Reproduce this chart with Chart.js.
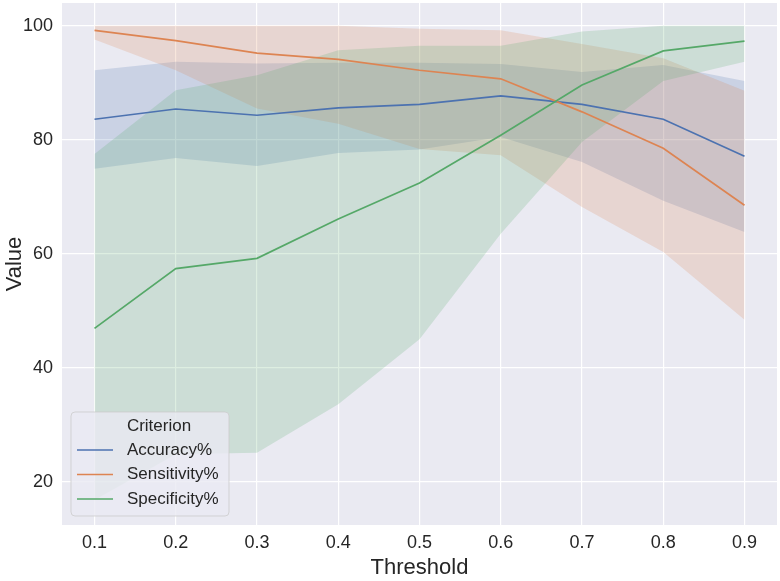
<!DOCTYPE html>
<html lang="en">
<head>
    <meta charset="UTF-8">
    <title>Threshold vs Value</title>
    <script src="https://cdn.jsdelivr.net/npm/chart.js@4.4.0/dist/chart.umd.min.js"></script>
    <style>
        body {
            margin: 0;
            background: #ffffff;
        }

        .chart-container {
            width: 780px;
            height: 581px;
        }
    </style>
</head>
<body>
    <div class="chart-container">
        <canvas id="criterionChart"></canvas>
    </div>

    <script>
        const thresholds = [0.1, 0.2, 0.3, 0.4, 0.5, 0.6, 0.7, 0.8, 0.9];
        const xTicks = [0.1, 0.2, 0.3, 0.4, 0.5, 0.6, 0.7, 0.8, 0.9];
        const yTicks = [20, 40, 60, 80, 100];

        const accuracy     = [83.6, 85.4, 84.3, 85.6, 86.2, 87.7, 86.2, 83.6, 77.1];
        const accuracyLow  = [74.9, 76.8, 75.4, 77.7, 78.3, 80.5, 76.1, 69.3, 63.8];
        const accuracyHigh = [92.2, 93.7, 93.4, 93.5, 93.5, 93.3, 91.9, 93.1, 90.3];

        const sensitivity     = [99.2, 97.4, 95.2, 94.1, 92.2, 90.7, 84.9, 78.5, 68.5];
        const sensitivityLow  = [97.6, 92.2, 85.5, 82.8, 78.4, 77.3, 68.2, 60.3, 48.4];
        const sensitivityHigh = [100, 100, 100, 100, 99.5, 99.2, 96.8, 94.3, 88.6];

        const specificity     = [46.9, 57.4, 59.2, 66.1, 72.4, 80.8, 89.6, 95.6, 97.3];
        const specificityLow  = [16.8, 24.8, 25.1, 33.6, 45.0, 63.5, 79.6, 90.3, 93.7];
        const specificityHigh = [77.5, 88.7, 91.3, 95.7, 96.5, 96.5, 99.0, 100, 100];

        const criteria = [
            { label: 'Accuracy%', color: '#4c72b0', band: 'rgba(76,114,176,0.2)', mean: accuracy, low: accuracyLow, high: accuracyHigh },
            { label: 'Sensitivity%', color: '#dd8452', band: 'rgba(221,132,82,0.2)', mean: sensitivity, low: sensitivityLow, high: sensitivityHigh },
            { label: 'Specificity%', color: '#55a868', band: 'rgba(85,168,104,0.2)', mean: specificity, low: specificityLow, high: specificityHigh }
        ];

        const FONT = "'Liberation Sans', Arial, sans-serif";
        const TEXT = '#262626';

        function points(values) {
            return thresholds.map((t, i) => ({ x: t, y: values[i] }));
        }

        // bands go under every line, like matplotlib's zorder
        const datasets = [];
        criteria.forEach((c, k) => {
            datasets.push({
                label: c.label + ' upper',
                data: points(c.high),
                borderWidth: 0,
                pointRadius: 0,
                backgroundColor: c.band,
                fill: '+1',
                order: 10 - k
            });
            datasets.push({
                label: c.label + ' lower',
                data: points(c.low),
                borderWidth: 0,
                pointRadius: 0,
                fill: false,
                order: 10 - k
            });
        });
        criteria.forEach((c, k) => {
            datasets.push({
                label: c.label,
                data: points(c.mean),
                borderColor: c.color,
                borderWidth: 1.7,
                pointRadius: 0,
                fill: false,
                order: 3 - k
            });
        });

        const plotBackground = {
            id: 'plotBackground',
            beforeDraw(chart) {
                const { ctx, chartArea: a } = chart;
                ctx.save();
                ctx.fillStyle = '#eaeaf2';
                ctx.fillRect(a.left, a.top, a.right - a.left, a.bottom - a.top);
                ctx.restore();
            }
        };

        const criterionLegend = {
            id: 'criterionLegend',
            afterDraw(chart) {
                const { ctx, chartArea: a } = chart;
                const w = 158, h = 104;
                const x = a.left + 9, y = a.bottom - 9 - h;
                ctx.save();
                ctx.beginPath();
                ctx.roundRect(x, y, w, h, 4);
                ctx.fillStyle = 'rgba(234,234,242,0.8)';
                ctx.fill();
                ctx.strokeStyle = 'rgba(204,204,204,0.8)';
                ctx.lineWidth = 1;
                ctx.stroke();

                ctx.fillStyle = TEXT;
                ctx.font = '17px ' + FONT;
                ctx.textBaseline = 'middle';
                ctx.textAlign = 'center';
                ctx.fillText('Criterion', x + 88, y + 14);

                ctx.textAlign = 'left';
                criteria.forEach((c, i) => {
                    const ly = y + 38 + i * 24.5;
                    ctx.strokeStyle = c.color;
                    ctx.lineWidth = 1.7;
                    ctx.beginPath();
                    ctx.moveTo(x + 6, ly);
                    ctx.lineTo(x + 42, ly);
                    ctx.stroke();
                    ctx.fillText(c.label, x + 56, ly);
                });
                ctx.restore();
            }
        };

        new Chart(document.getElementById('criterionChart'), {
            type: 'line',
            data: { datasets: datasets },
            plugins: [plotBackground, criterionLegend],
            options: {
                responsive: true,
                maintainAspectRatio: false,
                animation: false,
                devicePixelRatio: 1,
                layout: { padding: { left: 0, right: 3, top: 3, bottom: 0 } },
                plugins: {
                    legend: { display: false },
                    tooltip: { enabled: false },
                    filler: { propagate: false }
                },
                scales: {
                    x: {
                        type: 'linear',
                        min: 0.06,
                        max: 0.94,
                        afterBuildTicks: s => { s.ticks = xTicks.map(v => ({ value: v })); },
                        afterFit: s => { s.height = 56; s.paddingLeft = 0; s.paddingRight = 0; },
                        border: { display: false },
                        grid: { color: '#ffffff', lineWidth: 1.2, drawTicks: false },
                        ticks: {
                            padding: 7,
                            color: TEXT,
                            font: { family: FONT, size: 18 },
                            callback: v => v.toFixed(1)
                        },
                        title: {
                            display: true,
                            text: 'Threshold',
                            color: TEXT,
                            font: { family: FONT, size: 22 },
                            padding: { top: 0, bottom: 0 }
                        }
                    },
                    y: {
                        type: 'linear',
                        min: 12.4,
                        max: 104,
                        afterBuildTicks: s => { s.ticks = yTicks.map(v => ({ value: v })); },
                        afterFit: s => { s.width = 62; s.paddingTop = 0; s.paddingBottom = 0; },
                        border: { display: false },
                        grid: { color: '#ffffff', lineWidth: 1.2, drawTicks: false },
                        ticks: {
                            padding: 9,
                            color: TEXT,
                            font: { family: FONT, size: 18 }
                        },
                        title: {
                            display: true,
                            text: 'Value',
                            color: TEXT,
                            font: { family: FONT, size: 22 },
                            padding: { top: 2, bottom: 0 }
                        }
                    }
                }
            }
        });
    </script>
</body>
</html>
